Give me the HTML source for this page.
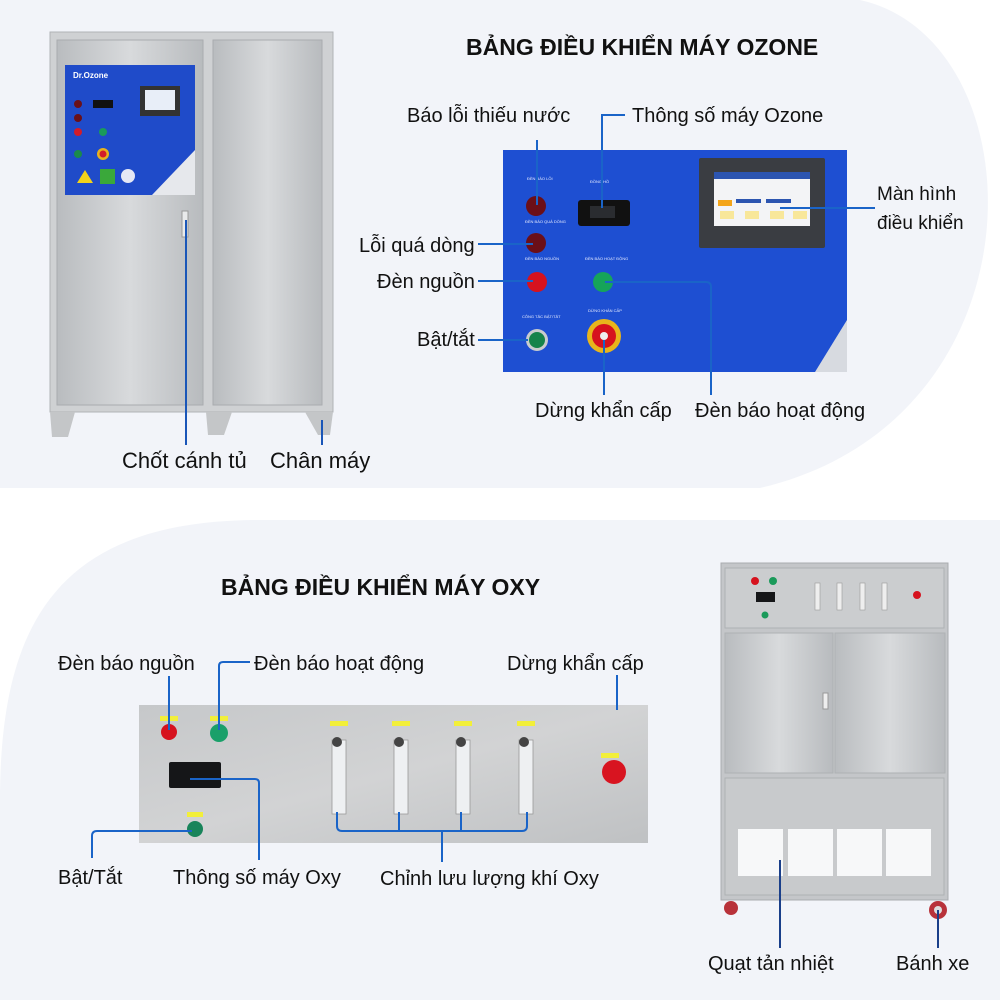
<!DOCTYPE html>
<html><head><meta charset="utf-8"><style>
body{margin:0;background:#fff;}
svg{display:block;font-family:"Liberation Sans",Arial,sans-serif;}
</style></head><body>
<svg width="1000" height="1000" viewBox="0 0 1000 1000" xmlns="http://www.w3.org/2000/svg">
<defs>
<linearGradient id="steel" x1="0" y1="0" x2="1" y2="0">
<stop offset="0" stop-color="#b9bcbf"/><stop offset="0.5" stop-color="#d8dadc"/><stop offset="1" stop-color="#b8bbbe"/>
</linearGradient>
<linearGradient id="steel2" x1="0" y1="0" x2="1" y2="1">
<stop offset="0" stop-color="#c6c8ca"/><stop offset="0.5" stop-color="#d2d3d4"/><stop offset="1" stop-color="#bfc1c3"/>
</linearGradient>
</defs>
<path d="M0 0 H860 C1040 40 1050 420 760 488 H0 Z" fill="#f2f4f9"/>
<path d="M0 800 C0 620 60 520 260 520 H1000 V1000 H0 Z" fill="#f2f4f9"/>

<!-- Ozone cabinet -->
<rect x="50" y="32" width="283" height="380" fill="#cfd1d3" stroke="#b0b3b6"/>
<rect x="57" y="40" width="146" height="365" fill="url(#steel)" stroke="#a9acaf"/>
<rect x="213" y="40" width="109" height="365" fill="url(#steel)" stroke="#a9acaf"/>
<polygon points="50,412 75,412 68,437 52,437" fill="#c4c6c8"/>
<polygon points="206,412 232,412 224,435 208,435" fill="#c4c6c8"/>
<polygon points="305,412 333,412 330,435 318,435" fill="#c4c6c8"/>
<path d="M65 65 H195 V195 L152 195 H65 Z" fill="#1f4bc9"/>
<polygon points="195,150 195,195 152,195" fill="#e6e8ec"/>
<text x="73" y="78" font-size="8" fill="#fff" font-weight="bold">Dr.Ozone</text>
<rect x="140" y="86" width="40" height="30" fill="#333"/>
<rect x="145" y="90" width="30" height="20" fill="#e8eef8"/>
<rect x="93" y="100" width="20" height="8" fill="#111"/>
<circle cx="78" cy="104" r="4" fill="#6a1018"/><circle cx="78" cy="118" r="4" fill="#6a1018"/>
<circle cx="78" cy="132" r="4" fill="#d21c2a"/><circle cx="103" cy="132" r="4" fill="#1a9a5a"/>
<circle cx="78" cy="154" r="4" fill="#1a8a4a"/><circle cx="103" cy="154" r="6" fill="#e8b21c"/><circle cx="103" cy="154" r="3.5" fill="#d21c2a"/>
<polygon points="85,170 77,183 93,183" fill="#f2d21a"/>
<rect x="100" y="169" width="15" height="15" fill="#3aa83a"/>
<circle cx="128" cy="176" r="7" fill="#e5e8f5"/>
<rect x="182" y="211" width="6" height="26" fill="#e9eaeb" stroke="#999"/>
<g stroke="#1a56b8" stroke-width="2" fill="none">
<line x1="186" y1="220" x2="186" y2="445"/>
<line x1="322" y1="420" x2="322" y2="445"/>
</g>
<text x="122" y="468" font-size="22" fill="#111">Chốt cánh tủ</text>
<text x="270" y="468" font-size="22" fill="#111">Chân máy</text>

<text x="466" y="55" font-size="23" font-weight="bold" fill="#111">BẢNG ĐIỀU KHIỂN MÁY OZONE</text>

<rect x="503" y="150" width="344" height="222" fill="#1e4fd2"/>
<polygon points="847,320 847,372 815,372" fill="#d7dae0"/>
<rect x="699" y="158" width="126" height="90" rx="2" fill="#3a3d42"/>
<rect x="714" y="172" width="96" height="54" fill="#f3f4f6"/>
<rect x="714" y="172" width="96" height="7" fill="#2c55b0"/>
<rect x="718" y="200" width="14" height="6" fill="#f3a51a"/>
<rect x="720" y="211" width="14" height="8" fill="#f8e79a"/><rect x="745" y="211" width="14" height="8" fill="#f8e79a"/><rect x="770" y="211" width="14" height="8" fill="#f8e79a"/><rect x="793" y="211" width="14" height="8" fill="#f8e79a"/>
<rect x="736" y="199" width="25" height="4" fill="#2c55b0"/><rect x="766" y="199" width="25" height="4" fill="#2c55b0"/>
<rect x="578" y="200" width="52" height="26" rx="3" fill="#111"/>
<rect x="590" y="206" width="25" height="12" fill="#2a2c30"/>
<circle cx="536" cy="206" r="10" fill="#6b0f18"/>
<circle cx="536" cy="243" r="10" fill="#6b0f18"/>
<circle cx="537" cy="282" r="10" fill="#d6121e"/>
<circle cx="603" cy="282" r="10" fill="#16a45a"/>
<circle cx="537" cy="340" r="11" fill="#c9cccd"/><circle cx="537" cy="340" r="8" fill="#16834a"/>
<circle cx="604" cy="336" r="17" fill="#e8b51c"/><circle cx="604" cy="336" r="12" fill="#d6121e"/><circle cx="604" cy="336" r="4" fill="#eee"/>
<g fill="#e6ebff" font-size="4">
<text x="527" y="180">ĐÈN BÁO LỖI</text><text x="590" y="183">ĐỒNG HỒ</text>
<text x="525" y="223">ĐÈN BÁO QUÁ DÒNG</text><text x="525" y="260">ĐÈN BÁO NGUỒN</text>
<text x="585" y="260">ĐÈN BÁO HOẠT ĐỘNG</text><text x="522" y="318">CÔNG TẮC BẬT/TẮT</text><text x="588" y="312">DỪNG KHẨN CẤP</text>
</g>
<g stroke="#1a64c8" stroke-width="2" fill="none">
<line x1="537" y1="140" x2="537" y2="205"/>
<polyline points="602,208 602,115 625,115"/>
<line x1="780" y1="208" x2="875" y2="208"/>
<line x1="478" y1="244" x2="533" y2="244"/>
<line x1="478" y1="281" x2="533" y2="281"/>
<line x1="478" y1="340" x2="528" y2="340"/>
<line x1="604" y1="340" x2="604" y2="395"/>
<path d="M605 282 H706 Q711 282 711 287 V395"/>
</g>
<g font-size="20" fill="#111">
<text x="407" y="122">Báo lỗi thiếu nước</text>
<text x="632" y="122">Thông số máy Ozone</text>
<text x="877" y="200" font-size="19">Màn hình</text>
<text x="877" y="229" font-size="19">điều khiển</text>
<text x="359" y="252">Lỗi quá dòng</text>
<text x="377" y="288">Đèn nguồn</text>
<text x="417" y="346">Bật/tắt</text>
<text x="535" y="417">Dừng khẩn cấp</text>
<text x="695" y="417">Đèn báo hoạt động</text>
</g>

<!-- OXY -->
<text x="221" y="595" font-size="23" font-weight="bold" fill="#111">BẢNG ĐIỀU KHIỂN MÁY OXY</text>
<rect x="139" y="705" width="509" height="138" fill="url(#steel2)"/>
<circle cx="169" cy="732" r="8" fill="#d6121e"/>
<circle cx="219" cy="733" r="9" fill="#1aa06a"/>
<rect x="169" y="762" width="52" height="26" rx="2" fill="#151618"/>
<circle cx="195" cy="829" r="8" fill="#18845a"/>
<rect x="160" y="716" width="18" height="5" fill="#f2ef3a"/><rect x="210" y="716" width="18" height="5" fill="#f2ef3a"/>
<rect x="187" y="812" width="16" height="5" fill="#f2ef3a"/>
<g fill="#eef0f2" stroke="#999" stroke-width="0.8">
<rect x="332" y="740" width="14" height="74"/><rect x="394" y="740" width="14" height="74"/><rect x="456" y="740" width="14" height="74"/><rect x="519" y="740" width="14" height="74"/>
</g>
<g fill="#444"><circle cx="337" cy="742" r="5"/><circle cx="399" cy="742" r="5"/><circle cx="461" cy="742" r="5"/><circle cx="524" cy="742" r="5"/></g>
<g fill="#f2ef3a"><rect x="330" y="721" width="18" height="5"/><rect x="392" y="721" width="18" height="5"/><rect x="454" y="721" width="18" height="5"/><rect x="517" y="721" width="18" height="5"/><rect x="601" y="753" width="18" height="5"/></g>
<circle cx="614" cy="772" r="12" fill="#d81420"/>
<g stroke="#1a64c8" stroke-width="2" fill="none">
<line x1="169" y1="676" x2="169" y2="730"/>
<path d="M219 730 V666 Q219 662 223 662 H250"/>
<line x1="617" y1="675" x2="617" y2="710"/>
<path d="M190 779 H255 Q259 779 259 783 V860"/>
<path d="M92 858 V836 Q92 831 97 831 H192"/>
<path d="M337 812 V826 Q337 831 342 831 H522 Q527 831 527 826 V812"/>
<line x1="399" y1="812" x2="399" y2="831"/><line x1="461" y1="812" x2="461" y2="831"/>
<line x1="442" y1="831" x2="442" y2="862"/>
</g>
<g font-size="20" fill="#111">
<text x="58" y="670">Đèn báo nguồn</text>
<text x="254" y="670">Đèn báo hoạt động</text>
<text x="507" y="670">Dừng khẩn cấp</text>
<text x="58" y="884">Bật/Tắt</text>
<text x="173" y="884">Thông số máy Oxy</text>
<text x="380" y="885">Chỉnh lưu lượng khí Oxy</text>
</g>

<!-- Oxy machine -->
<rect x="721" y="563" width="227" height="337" fill="#c4c6c9" stroke="#a9acaf"/>
<rect x="725" y="568" width="219" height="60" fill="#cbcdcf" stroke="#aeb1b4"/>
<rect x="725" y="633" width="108" height="140" fill="url(#steel)" stroke="#aeb1b4"/>
<rect x="835" y="633" width="110" height="140" fill="url(#steel)" stroke="#aeb1b4"/>
<rect x="725" y="778" width="219" height="117" fill="#c8cacc" stroke="#aeb1b4"/>
<g fill="#f7f8f9"><rect x="738" y="829" width="45" height="47"/><rect x="788" y="829" width="45" height="47"/><rect x="837" y="829" width="45" height="47"/><rect x="886" y="829" width="45" height="47"/></g>
<circle cx="755" cy="581" r="4" fill="#d6121e"/><circle cx="773" cy="581" r="4" fill="#1a9a5a"/>
<rect x="756" y="592" width="19" height="10" fill="#151618"/>
<circle cx="765" cy="615" r="3.5" fill="#1a9a5a"/>
<g fill="#eee" stroke="#999" stroke-width="0.6"><rect x="815" y="583" width="5" height="27"/><rect x="837" y="583" width="5" height="27"/><rect x="860" y="583" width="5" height="27"/><rect x="882" y="583" width="5" height="27"/></g>
<circle cx="917" cy="595" r="4" fill="#d6121e"/>
<rect x="823" y="693" width="5" height="16" fill="#eee" stroke="#999"/>
<circle cx="731" cy="908" r="7" fill="#b8323a"/><circle cx="938" cy="910" r="9" fill="#b8323a"/><circle cx="938" cy="910" r="4" fill="#ddd"/>
<g stroke="#1a3f8a" stroke-width="2"><line x1="780" y1="860" x2="780" y2="948"/><line x1="938" y1="910" x2="938" y2="948"/></g>
<g font-size="20" fill="#111">
<text x="708" y="970">Quạt tản nhiệt</text>
<text x="896" y="970">Bánh xe</text>
</g>
</svg>
</body></html>
